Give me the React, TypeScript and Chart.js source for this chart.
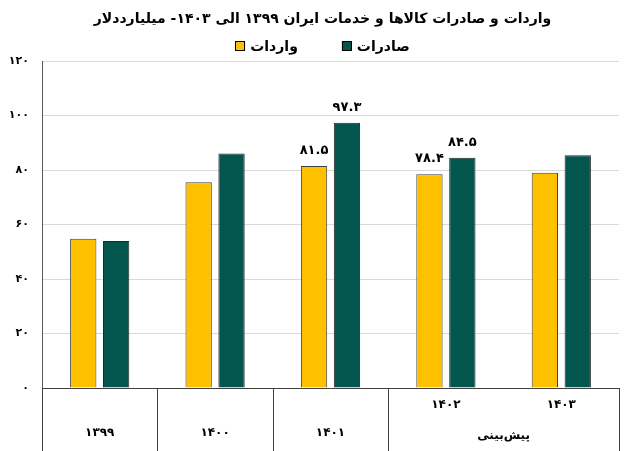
import React, { useEffect, useRef } from 'react';
import { Chart, registerables } from 'chart.js';

Chart.register(...registerables);

const FA_DIGITS = '۰۱۲۳۴۵۶۷۸۹';
const toFa = (s: string | number) => String(s).replace(/[0-9]/g, (d) => FA_DIGITS[+d]);

const titleText = 'واردات و صادرات کالاها و خدمات ایران ۱۳۹۹ الی ۱۴۰۳- میلیارددلار';
const seriesNames = ['واردات', 'صادرات'];
const years = ['1399', '1400', '1401', '1402', '1403'];
const importsValues = [54.8, 75.5, 81.5, 78.4, 79.0];
const exportsValues = [53.9, 86.1, 97.3, 84.5, 85.4];
const labeledYears = ['1401', '1402'];
const forecastYears = ['1402', '1403'];
const forecastLabel = 'پیش‌بینی';
const yMin = 0;
const yMax = 120;
const yStep = 20;

const FONT = "'DejaVu Sans', sans-serif";

const headerPlugin = {
  id: 'header',
  afterDraw(chart: any) {
    const { ctx, chartArea } = chart;
    const cx = (chartArea.left + chartArea.right) / 2 - 8;
    ctx.save();
    ctx.fillStyle = '#000';
    ctx.textBaseline = 'middle';
    ctx.textAlign = 'center';
    ctx.font = `bold 14px ${FONT}`;
    ctx.fillText(titleText, cx, 19);
    // legend
    ctx.font = `bold 14px ${FONT}`;
    const box = 10;
    const gapBoxText = 5;
    const itemGap = 44;
    const items = chart.data.datasets.map((ds: any) => ({
      text: ds.label,
      fill: ds.backgroundColor,
      w: box + gapBoxText + ctx.measureText(ds.label).width,
    }));
    const total = items.reduce((a: number, it: any) => a + it.w, 0) + itemGap * (items.length - 1);
    let x = cx - total / 2;
    const ly = 47;
    ctx.textAlign = 'left';
    items.forEach((it: any) => {
      ctx.fillStyle = it.fill;
      ctx.fillRect(x, ly - box / 2 - 1, box, box);
      ctx.strokeStyle = '#000';
      ctx.lineWidth = 1;
      ctx.strokeRect(Math.round(x) + 0.5, Math.round(ly - box / 2 - 1) + 0.5, box - 1, box - 1);
      ctx.fillStyle = '#000';
      ctx.fillText(it.text, x + box + gapBoxText, ly);
      x += it.w + itemGap;
    });
    ctx.restore();
  },
};

const xLabelsPlugin = {
  id: 'xLabels',
  afterDraw(chart: any) {
    const { ctx, chartArea, scales } = chart;
    const x = scales.x;
    const n = years.length;
    const catW = (chartArea.right - chartArea.left) / n;
    const bottom = chartArea.bottom;
    const H = chart.height;
    ctx.save();
    ctx.strokeStyle = '#404040';
    ctx.lineWidth = 1;
    ctx.beginPath();
    ctx.moveTo(chartArea.left, bottom + 0.5);
    ctx.lineTo(chartArea.right, bottom + 0.5);
    ctx.stroke();
    for (let i = 0; i <= n; i++) {
      const inF = (k: number) => k >= 0 && k < n && forecastYears.includes(years[k]);
      if (i > 0 && i < n && inF(i - 1) && inF(i)) continue;
      const px = i < n ? x.getPixelForValue(i) - catW / 2 : x.getPixelForValue(n - 1) + catW / 2;
      const xx = Math.round(px) + 0.5;
      ctx.beginPath();
      ctx.moveTo(xx, bottom);
      ctx.lineTo(xx, H);
      ctx.stroke();
    }
    ctx.fillStyle = '#000';
    ctx.font = `bold 12px ${FONT}`;
    ctx.textAlign = 'center';
    ctx.textBaseline = 'middle';
    const fx: number[] = [];
    years.forEach((yr, i) => {
      const px = x.getPixelForValue(i);
      if (forecastYears.includes(yr)) {
        fx.push(px);
        ctx.fillText(toFa(yr), px, bottom + 17);
      } else {
        ctx.fillText(toFa(yr), px, bottom + 45);
      }
    });
    if (fx.length) {
      const cx = fx.reduce((a, b) => a + b, 0) / fx.length;
      ctx.fillText(forecastLabel, cx, bottom + 48);
    }
    ctx.restore();
  },
};

const dataLabelsPlugin = {
  id: 'dataLabelsCustom',
  afterDatasetsDraw(chart: any) {
    const { ctx } = chart;
    ctx.save();
    ctx.fillStyle = '#000';
    ctx.font = `bold 13px ${FONT}`;
    ctx.textAlign = 'center';
    ctx.textBaseline = 'bottom';
    chart.data.datasets.forEach((ds: any, di: number) => {
      const meta = chart.getDatasetMeta(di);
      years.forEach((yr, i) => {
        if (!labeledYears.includes(yr)) return;
        const el = meta.data[i];
        ctx.fillText(toFa(ds.data[i].toFixed(1)), el.x, el.y - 9);
      });
    });
    ctx.restore();
  },
};

export default function App() {
  const ref = useRef<HTMLCanvasElement>(null);
  useEffect(() => {
    if (!ref.current) return;
    const chart = new Chart(ref.current, {
      type: 'bar',
      data: {
        labels: years,
        datasets: [
          {
            label: seriesNames[0],
            data: importsValues,
            backgroundColor: '#FFC000',
            borderColor: '#404040',
            borderWidth: 1,
            categoryPercentage: 0.57,
            barPercentage: 0.8,
          },
          {
            label: seriesNames[1],
            data: exportsValues,
            backgroundColor: '#02564E',
            borderColor: '#262626',
            borderWidth: 1,
            categoryPercentage: 0.57,
            barPercentage: 0.8,
          },
        ],
      },
      options: {
        animation: false,
        responsive: false,
        maintainAspectRatio: false,
        layout: { padding: { left: 0, right: 12, top: 61, bottom: 0 } },
        plugins: {
          title: { display: false },
          legend: { display: false },
          tooltip: { enabled: false },
        },
        scales: {
          x: {
            grid: { display: false },
            border: { display: false },
            ticks: { display: false },
            afterFit(scale: any) {
              scale.height = 63;
            },
          },
          y: {
            min: yMin,
            max: yMax,
            ticks: {
              stepSize: yStep,
              padding: 13,
              color: '#000',
              font: { family: FONT, size: 11, weight: 'bold' },
              callback: (v: any) => toFa(v),
            },
            grid: { color: '#d9d9d9', drawTicks: false },
            border: { display: true, color: '#595959' },
            afterFit(scale: any) {
              scale.width = 42;
            },
          },
        },
      },
      plugins: [headerPlugin, xLabelsPlugin, dataLabelsPlugin],
    });
    return () => chart.destroy();
  }, []);
  return (
    <div style={{ position: 'absolute', left: 0, top: 0, width: 631, height: 451, background: '#fff' }}>
      <canvas ref={ref} width={631} height={451} style={{ width: 631, height: 451 }} />
    </div>
  );
}
